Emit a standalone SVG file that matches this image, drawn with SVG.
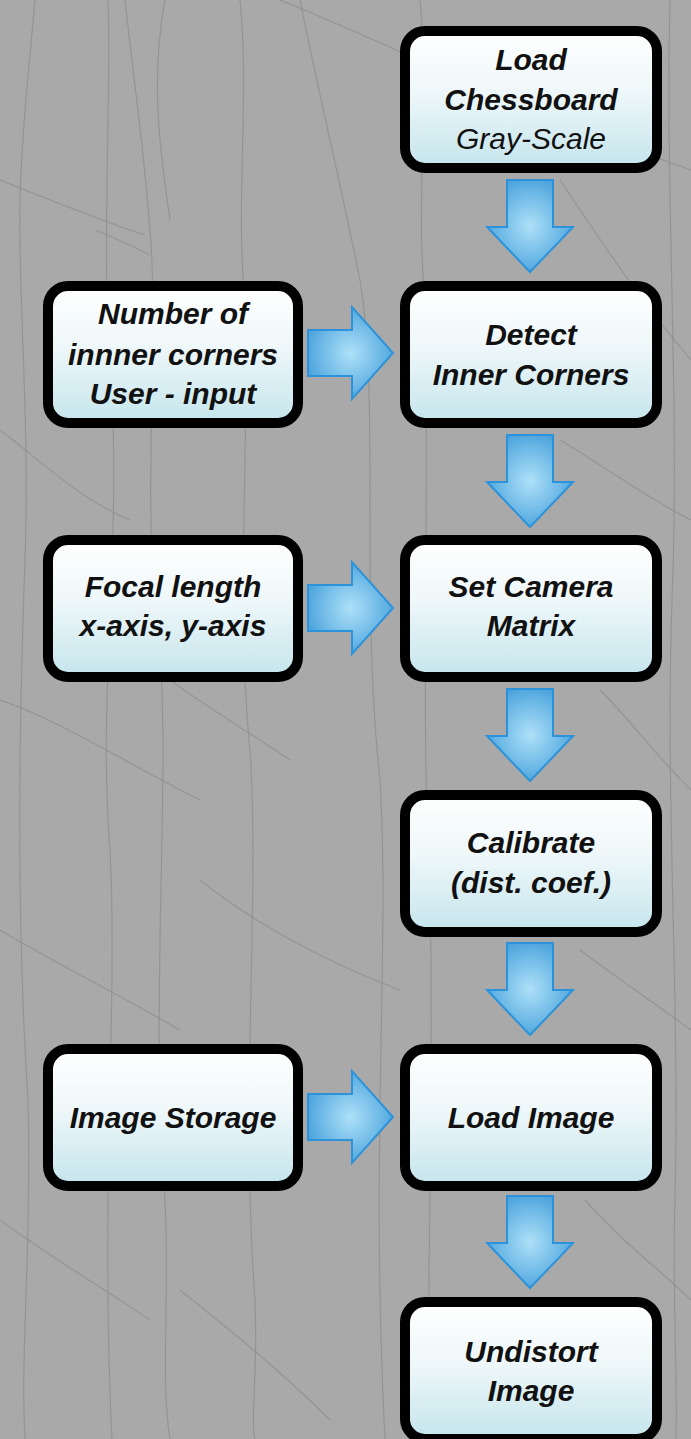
<svg xmlns="http://www.w3.org/2000/svg" width="691" height="1439" viewBox="0 0 691 1439">
<defs>
<linearGradient id="boxFill" x1="0" y1="0" x2="0" y2="1">
<stop offset="0" stop-color="#ffffff"/>
<stop offset="0.45" stop-color="#eef7f9"/>
<stop offset="1" stop-color="#c4e5ec"/>
</linearGradient>
<radialGradient id="arrowFill" cx="0.5" cy="0.5" r="0.6">
<stop offset="0" stop-color="#aee0f8"/>
<stop offset="0.6" stop-color="#6cb8e6"/>
<stop offset="1" stop-color="#3f9bd8"/>
</radialGradient>
<style>
.bg{fill:#a9a9a9}
.crack{fill:none;stroke:#8c8c8c;stroke-width:1.2;opacity:0.7}
.box{fill:url(#boxFill);stroke:#000;stroke-width:10}
.arrow{fill:url(#arrowFill);stroke:#2c93da;stroke-width:2;stroke-linejoin:miter}
.t{font-family:"Liberation Sans",Arial,sans-serif;font-size:30px;font-style:italic;font-weight:bold;fill:#111;text-anchor:middle}
.r{font-weight:normal}
</style>
</defs>
<rect class="bg" x="0" y="0" width="691" height="1439"/>
<g id="background-texture">
<path class="crack" d="M35,0 C30,60 22,120 20,200 C18,300 30,420 25,560 C20,700 15,900 28,1100 C32,1250 20,1350 25,1439"/>
<path class="crack" d="M108,0 C112,100 100,250 112,400 C120,550 98,700 110,850 C118,1000 100,1200 112,1439"/>
<path class="crack" d="M125,0 C135,90 145,160 150,230 C160,350 140,500 160,650 C170,800 150,1000 165,1200 C170,1300 160,1380 170,1439"/>
<path class="crack" d="M165,0 C150,80 160,150 170,220"/>
<path class="crack" d="M240,0 C250,100 235,200 245,300 C250,450 235,600 250,750 C260,900 240,1100 255,1300 C258,1380 250,1420 255,1439"/>
<path class="crack" d="M300,0 C320,100 340,180 360,280 C380,400 360,600 380,780 C390,950 370,1150 385,1439"/>
<path class="crack" d="M0,180 C50,200 100,220 145,235"/>
<path class="crack" d="M95,230 C120,240 140,250 150,255"/>
<path class="crack" d="M280,0 C380,40 520,110 691,170"/>
<path class="crack" d="M0,430 C40,460 80,500 130,520"/>
<path class="crack" d="M0,700 C60,720 120,760 200,800"/>
<path class="crack" d="M130,650 C180,690 230,720 290,760"/>
<path class="crack" d="M0,930 C50,960 110,990 180,1030"/>
<path class="crack" d="M200,880 C250,920 320,960 400,990"/>
<path class="crack" d="M0,1220 C40,1250 90,1280 150,1320"/>
<path class="crack" d="M180,1290 C230,1330 280,1370 330,1420"/>
<path class="crack" d="M560,180 C600,240 640,300 691,360"/>
<path class="crack" d="M560,440 C610,470 650,500 691,520"/>
<path class="crack" d="M600,690 C630,720 660,760 691,790"/>
<path class="crack" d="M580,950 C620,980 650,1000 691,1030"/>
<path class="crack" d="M585,1200 C620,1240 660,1270 691,1300"/>
<path class="crack" d="M670,0 C665,200 680,400 672,600 C665,800 680,1000 675,1200 C672,1300 678,1380 676,1439"/>
<path class="crack" d="M420,0 C430,100 415,200 425,300 C430,500 420,700 430,900 C435,1100 425,1300 430,1439"/>
</g>
<g id="connectors">
<path class="arrow" d="M507,180 H553 V227 H573 L530,272 L487,227 H507 Z"/>
<path class="arrow" d="M507,435 H553 V482 H573 L530,527 L487,482 H507 Z"/>
<path class="arrow" d="M507,689 H553 V736 H573 L530,781 L487,736 H507 Z"/>
<path class="arrow" d="M507,943 H553 V990 H573 L530,1035 L487,990 H507 Z"/>
<path class="arrow" d="M507,1196 H553 V1243 H573 L530,1288 L487,1243 H507 Z"/>
<path class="arrow" d="M308,330 H352 V307 L393,353 L352,399 V376 H308 Z"/>
<path class="arrow" d="M308,585 H352 V562 L393,608 L352,654 V631 H308 Z"/>
<path class="arrow" d="M308,1094 H352 V1071 L393,1117 L352,1163 V1140 H308 Z"/>
</g>
<g id="load-chessboard">
<rect class="box" x="405" y="31" width="252" height="137" rx="20"/>
<text class="t" x="531" y="70">Load</text>
<text class="t" x="531" y="110">Chessboard</text>
<text class="t r" x="531" y="149">Gray-Scale</text>
</g>
<g id="number-of-inner-corners">
<rect class="box" x="48" y="286" width="250" height="137" rx="20"/>
<text class="t" x="173" y="324">Number of</text>
<text class="t" x="173" y="365">innner corners</text>
<text class="t" x="173" y="404">User - input</text>
</g>
<g id="detect-inner-corners">
<rect class="box" x="405" y="286" width="252" height="137" rx="20"/>
<text class="t" x="531" y="345">Detect</text>
<text class="t" x="531" y="385">Inner Corners</text>
</g>
<g id="focal-length">
<rect class="box" x="48" y="540" width="250" height="137" rx="20"/>
<text class="t" x="173" y="597">Focal length</text>
<text class="t" x="173" y="636">x-axis, y-axis</text>
</g>
<g id="set-camera-matrix">
<rect class="box" x="405" y="540" width="252" height="137" rx="20"/>
<text class="t" x="531" y="597">Set Camera</text>
<text class="t" x="531" y="636">Matrix</text>
</g>
<g id="calibrate">
<rect class="box" x="405" y="795" width="252" height="137" rx="20"/>
<text class="t" x="531" y="853">Calibrate</text>
<text class="t" x="531" y="893">(dist. coef.)</text>
</g>
<g id="image-storage">
<rect class="box" x="48" y="1049" width="250" height="137" rx="20"/>
<text class="t" x="173" y="1128">Image Storage</text>
</g>
<g id="load-image">
<rect class="box" x="405" y="1049" width="252" height="137" rx="20"/>
<text class="t" x="531" y="1128">Load Image</text>
</g>
<g id="undistort-image">
<rect class="box" x="405" y="1302" width="252" height="137" rx="20"/>
<text class="t" x="531" y="1362">Undistort</text>
<text class="t" x="531" y="1401">Image</text>
</g>
</svg>
